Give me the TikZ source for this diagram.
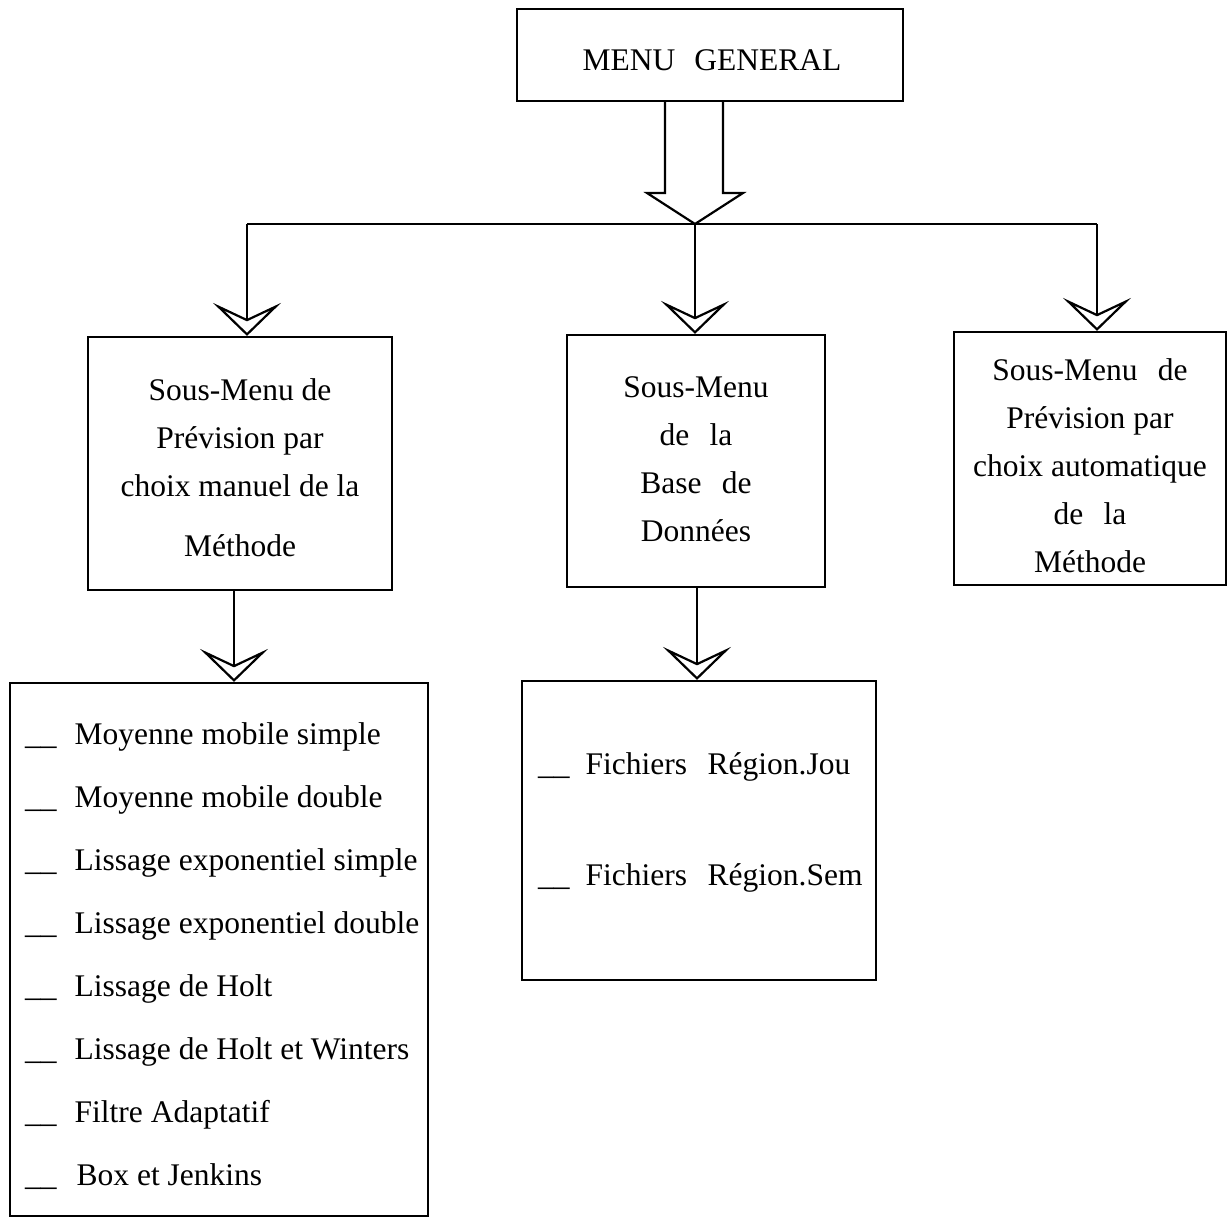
\documentclass[tikz,border=0pt]{standalone}
\usepackage{fontspec}
\setmainfont{Liberation Serif}
\usetikzlibrary{arrows.meta}
\begin{document}
\begin{tikzpicture}[x=1pt,y=-1pt,
  lw/.style={line width=2.2pt},
  box/.style={draw, lw, inner sep=0pt},
  lbl/.style={align=center, inner sep=0pt, font=\fontsize{31.5}{48}\selectfont},
  head/.style={lw, -{Stealth[open, length=33pt, width=68pt, inset=16pt, line width=2.2pt]}},
  entry/.style={font=\fontsize{31.5}{38}\selectfont, anchor=base west, inner sep=0pt}]
\useasboundingbox (0,0) rectangle (1228,1218);

% boxes
\node[box, minimum width=386pt, minimum height=92pt] (menu) at (710,55) {};
\node[box, minimum width=304pt, minimum height=253pt] (manuel) at (240,463.5) {};
\node[box, minimum width=258pt, minimum height=252pt] (base) at (696,461) {};
\node[box, minimum width=272pt, minimum height=253pt] (auto) at (1090,458.5) {};
\node[box, minimum width=418pt, minimum height=533pt] (methodes) at (219,949.5) {};
\node[box, minimum width=354pt, minimum height=299pt] (fichiers) at (699,830.5) {};

% box titles
\node[lbl] (menutxt) at (712,60) {MENU\hspace{0.35em} GENERAL};
\node[lbl] (manueltxt) at (240,468)
  {Sous-Menu de\\Prévision par\\choix manuel de la\\[12pt]Méthode};
\node[lbl] (basetxt) at (696,459)
  {Sous-Menu\\de\hspace{0.4em} la\\Base\hspace{0.4em} de\\Données};
\node[lbl] (autotxt) at (1090,466)
  {Sous-Menu\hspace{0.4em} de\\Prévision par\\choix automatique\\de\hspace{0.4em} la\\Méthode};

% hollow arrow leaving the general menu
\coordinate (hub) at (695,224);
\draw[lw, line join=miter] (665,101) -- (665,193) -- (647,193) -- (hub)
  -- (743,193) -- (723,193) -- (723,101);

% distribution line
\coordinate (jl) at (247,224);
\coordinate (jr) at (1097,224);
\draw[lw] (jl) -- (jr);
\draw[head] (jl) -- (jl |- manuel.north);
\draw[head] (hub) -- (hub |- base.north);
\draw[head] (jr) -- (jr |- auto.north);

% second level
\coordinate (xl) at (234,0);
\coordinate (xm) at (697,0);
\draw[head] (manuel.south -| xl) -- (methodes.north -| xl);
\draw[head] (base.south -| xm) -- (fichiers.north -| xm);

% list of methods
\node[entry] (m1) at (25,744)  {\_\_\hspace{18pt}Moyenne mobile simple};
\node[entry] (m2) at (25,807)  {\_\_\hspace{18pt}Moyenne mobile double};
\node[entry] (m3) at (25,870)  {\_\_\hspace{18pt}Lissage exponentiel simple};
\node[entry] (m4) at (25,933)  {\_\_\hspace{18pt}Lissage exponentiel double};
\node[entry] (m5) at (25,996)  {\_\_\hspace{18pt}Lissage de Holt};
\node[entry] (m6) at (25,1059) {\_\_\hspace{18pt}Lissage de Holt et Winters};
\node[entry] (m7) at (25,1122) {\_\_\hspace{18pt}Filtre Adaptatif};
\node[entry] (m8) at (25,1185) {\_\_\hspace{20pt}Box et Jenkins};

% data files
\node[entry] (f1) at (538,774) {\_\_\hspace{16pt}Fichiers\hspace{0.4em} Région.Jou};
\node[entry] (f2) at (538,885) {\_\_\hspace{16pt}Fichiers\hspace{0.4em} Région.Sem};
\end{tikzpicture}
\end{document}
